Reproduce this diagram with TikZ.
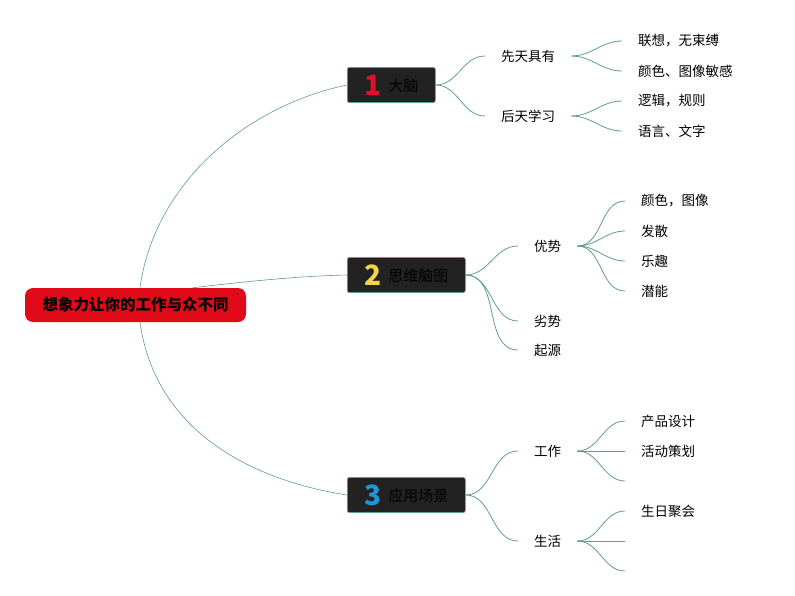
\documentclass[tikz,border=0pt]{standalone}
\usepackage{fontspec}
\setmainfont{Noto Sans CJK SC}
\usetikzlibrary{positioning}
\definecolor{rootred}{HTML}{E00A18}
\definecolor{topicbg}{HTML}{222222}
\definecolor{linkgreen}{HTML}{5F9E88}
\definecolor{numred}{HTML}{E0102A}
\definecolor{numyellow}{HTML}{F2D44A}
\definecolor{numblue}{HTML}{1E96D8}
\tikzset{
  rootbox/.style={fill=rootred,rounded corners=8pt,minimum width=221pt,minimum height=34pt,inner sep=0pt,font=\fontsize{15.5}{16}\selectfont\bfseries,text=black},
  topicbox/.style={anchor=west,fill=topicbg,draw=linkgreen,line width=0.6pt,rounded corners=2pt,minimum height=35pt,inner xsep=17pt,inner ysep=0pt,font=\fontsize{15}{15}\selectfont,text=black},
  sub/.style={anchor=west,inner xsep=16pt,inner ysep=2pt,font=\fontsize{13.5}{14}\selectfont},
  link/.style={draw=linkgreen,line width=0.8pt},
  rootlink/.style={draw=linkgreen,line width=0.6pt}
}
\newcommand{\topicnum}[3]{\makebox[18pt]{\fontsize{28}{28}\selectfont\bfseries\color{#1}#2}\hspace{6pt}\raisebox{3.5pt}{#3}}

\begin{document}
\begin{tikzpicture}[x=1pt,y=-1pt]
  \useasboundingbox (0,0) rectangle (795,595);
  \node[rootbox] (root) at (135.5,305) {想象力让你的工作与众不同};
  \node[topicbox] (t1) at (347,85) {\topicnum{numred}{1}{大脑}};
  \node[topicbox] (t2) at (347,275) {\topicnum{numyellow}{2}{思维脑图}};
  \node[topicbox] (t3) at (347,495) {\topicnum{numblue}{3}{应用场景}};
  % second level
  \node[sub] (s11) at (485,56) {先天具有};
  \node[sub] (s12) at (485,116) {后天学习};
  \node[sub] (s21) at (518,246) {优势};
  \node[sub] (s22) at (518,321) {劣势};
  \node[sub] (s23) at (518,350) {起源};
  \node[sub] (s31) at (518,451) {工作};
  \node[sub] (s32) at (518,541) {生活};
  % leaves
  \node[sub] (l111) at (622,41) {联想，无束缚};
  \node[sub] (l112) at (622,71) {颜色、图像敏感};
  \node[sub] (l121) at (622,101) {逻辑，规则};
  \node[sub] (l122) at (622,131) {语言、文字};
  \node[sub] (l211) at (625,201) {颜色，图像};
  \node[sub] (l212) at (625,231) {发散};
  \node[sub] (l213) at (625,261) {乐趣};
  \node[sub] (l214) at (625,291) {潜能};
  \node[sub] (l311) at (625,421) {产品设计};
  \node[sub] (l312) at (625,451) {活动策划};
  \coordinate (l313) at (625,481);
  \node[sub] (l321) at (625,511) {生日聚会};
  \coordinate (l322) at (625,541);
  \coordinate (l323) at (625,571);
  % root to topics
  \draw[rootlink] ([xshift=4.5pt]root.north) .. controls (155,180) and (250,105) .. (t1.west);
  \draw[rootlink] ([xshift=57pt]root.north) .. controls (250,281) and (300,276) .. (t2.west);
  \draw[rootlink] ([xshift=4.5pt]root.south) .. controls (155,430) and (250,480) .. (t3.west);
  \path[link]
    (t1.east) edge[out=0,in=180] (s11.west) edge[out=0,in=180] (s12.west)
    (t2.east) edge[out=0,in=180] (s21.west) edge[out=0,in=180] (s22.west) edge[out=0,in=180] (s23.west)
    (t3.east) edge[out=0,in=180] (s31.west) edge[out=0,in=180] (s32.west);
  \path[link]
    (s11.east) edge[out=0,in=180] (l111.west) edge[out=0,in=180] (l112.west)
    (s12.east) edge[out=0,in=180] (l121.west) edge[out=0,in=180] (l122.west)
    (s21.east) edge[out=0,in=180] (l211.west) edge[out=0,in=180] (l212.west)
               edge[out=0,in=180] (l213.west) edge[out=0,in=180] (l214.west)
    (s31.east) edge[out=0,in=180] (l311.west) edge (l312.west) edge[out=0,in=180] (l313)
    (s32.east) edge[out=0,in=180] (l321.west) edge (l322) edge[out=0,in=180] (l323);
\end{tikzpicture}
\end{document}
